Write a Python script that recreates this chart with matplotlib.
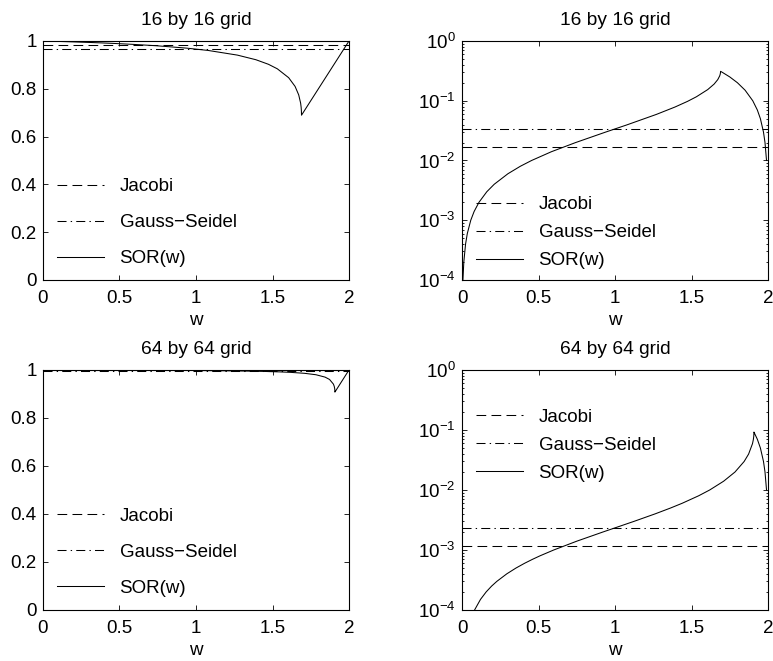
import matplotlib
matplotlib.use("Agg")
import matplotlib.pyplot as plt

# Values of w (relaxation parameter) and 1 - spectral radius of SOR(w),
# read off the curves in the original figure.
w_16 = [0.0, 0.0059, 0.0117, 0.0232, 0.0346, 0.0571, 0.0790, 0.1110, 0.1620,
        0.2104, 0.2999, 0.3809, 0.4546, 0.5835, 0.7410, 0.9372, 1.0794, 1.2705,
        1.3914, 1.4734, 1.5315, 1.6056, 1.6475, 1.6713, 1.6839, 1.6872, 1.6890,
        1.6896, 1.70, 1.75, 1.80, 1.85, 1.90, 1.93, 1.95, 1.97, 1.98, 1.99, 2.0]
gap_16 = [0.0, 0.0001, 0.0002, 0.0004, 0.0006, 0.0010, 0.0014, 0.0020, 0.0030,
          0.0040, 0.0060, 0.0080, 0.0100, 0.0140, 0.0199, 0.0298, 0.0396, 0.0591,
          0.0784, 0.0975, 0.1164, 0.1536, 0.1900, 0.2256, 0.2604, 0.2775, 0.2944,
          0.3104, 0.30, 0.25, 0.20, 0.15, 0.10, 0.07, 0.05, 0.03, 0.02, 0.01, 0.0]

w_64 = [0.0, 0.0821, 0.1207, 0.1578, 0.1934, 0.2277, 0.2925, 0.3527, 0.4088,
        0.4613, 0.5103, 0.5997, 0.7496, 0.9226, 1.1244, 1.2624, 1.3626, 1.4387,
        1.5464, 1.6188, 1.7098, 1.7838, 1.8436, 1.8728, 1.8983, 1.9037, 1.9066,
        1.9077, 1.9078, 1.93, 1.95, 1.97, 1.98, 1.99, 2.0]
gap_64 = [0.0, 0.0001, 0.00015, 0.0002, 0.00025, 0.0003, 0.0004, 0.0005, 0.0006,
          0.0007, 0.0008, 0.0010, 0.0014, 0.0020, 0.0030, 0.0040, 0.0050, 0.0060,
          0.0080, 0.0100, 0.0140, 0.0199, 0.0298, 0.0396, 0.0591, 0.0688, 0.0784,
          0.0880, 0.0922, 0.07, 0.05, 0.03, 0.02, 0.01, 0.0]

# 1 - spectral radius for Jacobi and Gauss-Seidel (16x16, 64x64)
jacobi_gap = [0.0170, 0.00117]
gs_gap = [0.0338, 0.00233]

titles = ["16 by 16 grid", "64 by 64 grid"]
x_ticks = [0, 0.5, 1, 1.5, 2]
x_tick_labels = ["0", "0.5", "1", "1.5", "2"]
y_ticks = [0, 0.2, 0.4, 0.6, 0.8, 1]
y_tick_labels = ["0", "0.2", "0.4", "0.6", "0.8", "1"]
labels = ["Jacobi", "Gauss\u2212Seidel", "SOR(w)"]

plt.rcParams["font.family"] = ["Liberation Sans", "DejaVu Sans"]
plt.rcParams["font.size"] = 13.5
plt.rcParams["axes.titlesize"] = 13.8
plt.rcParams["mathtext.fontset"] = "custom"
plt.rcParams["mathtext.rm"] = "Liberation Sans"
plt.rcParams["lines.scale_dashes"] = False

DASHED = (0, (7, 3.8))
DASHDOT = (0, (6.5, 3, 1, 3))
LW = 0.75


def style_axes(ax):
    # MATLAB look: ticks pointing in, on all four sides
    ax.tick_params(which="both", direction="in", top=True, right=True, width=0.6)
    ax.tick_params(which="major", length=3.5)
    ax.tick_params(which="minor", length=1.5)
    ax.tick_params(axis="x", which="major", pad=7.5)
    ax.tick_params(axis="y", which="major", pad=4.5)
    for sp in ax.spines.values():
        sp.set_linewidth(0.8)
    ax.set_xlim(0, 2)
    ax.set_xticks(x_ticks)
    ax.set_xticklabels(x_tick_labels)
    ax.set_xlabel("w", labelpad=3)


def draw_pair(ax_lin, ax_log, w, gap, jac, gs, title, legend_y_log, spacing_log):
    rho = [1 - g for g in gap]

    # Left: spectral radius itself
    ax_lin.axhline(1 - jac, color="k", lw=LW, linestyle=DASHED, label=labels[0])
    ax_lin.axhline(1 - gs, color="k", lw=LW, linestyle=DASHDOT, label=labels[1])
    ax_lin.plot(w, rho, color="k", lw=LW, label=labels[2])
    style_axes(ax_lin)
    ax_lin.set_ylim(0, 1)
    ax_lin.set_yticks(y_ticks)
    ax_lin.set_yticklabels(y_tick_labels)
    ax_lin.set_title(title, pad=11.5)
    ax_lin.legend(loc="center left", bbox_to_anchor=(0.045, 0.24), frameon=False,
                  borderpad=0, borderaxespad=0, handlelength=2.5,
                  handletextpad=0.85, labelspacing=1.0)

    # Right: 1 - spectral radius on a log scale
    ax_log.set_yscale("log", nonpositive="mask")
    ax_log.axhline(jac, color="k", lw=LW, linestyle=DASHED, label=labels[0])
    ax_log.axhline(gs, color="k", lw=LW, linestyle=DASHDOT, label=labels[1])
    ax_log.plot(w, gap, color="k", lw=LW, label=labels[2])
    style_axes(ax_log)
    ax_log.set_ylim(1e-4, 1)
    ax_log.set_yticks([1e-4, 1e-3, 1e-2, 1e-1, 1])
    ax_log.set_title(title, pad=11.5)
    ax_log.legend(loc="center left", bbox_to_anchor=(0.045, legend_y_log),
                  frameon=False, borderpad=0, borderaxespad=0, handlelength=2.5,
                  handletextpad=0.85, labelspacing=spacing_log)


fig = plt.figure(figsize=(7.73, 6.61), dpi=100)
ax1 = fig.add_axes([0.0556, 0.5764, 0.3959, 0.3616])
ax2 = fig.add_axes([0.5977, 0.5764, 0.3959, 0.3616])
ax3 = fig.add_axes([0.0556, 0.0772, 0.3959, 0.3631])
ax4 = fig.add_axes([0.5977, 0.0772, 0.3959, 0.3631])

draw_pair(ax1, ax2, w_16, gap_16, jacobi_gap[0], gs_gap[0], titles[0], 0.197, 0.58)
draw_pair(ax3, ax4, w_64, gap_64, jacobi_gap[1], gs_gap[1], titles[1], 0.6875, 0.58)

fig.savefig("out.png", dpi=100)
plt.close(fig)
